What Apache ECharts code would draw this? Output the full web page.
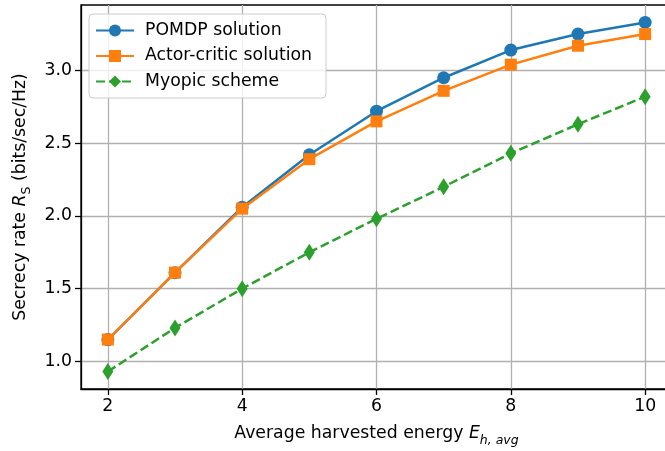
<!DOCTYPE html>
<html><head><meta charset="utf-8">
<script src="https://cdn.jsdelivr.net/npm/echarts@6/dist/echarts.min.js"></script>
<style>html,body{margin:0;padding:0;background:#fff}#c{width:665px;height:451px}</style>
</head><body><div id="c"></div>
<script>
var xValues = [2, 3, 4, 5, 6, 7, 8, 9, 10];
var pomdp = [1.15, 1.61, 2.06, 2.42, 2.72, 2.95, 3.14, 3.25, 3.33];
var actorCritic = [1.15, 1.61, 2.05, 2.39, 2.65, 2.86, 3.04, 3.17, 3.25];
var myopic = [0.93, 1.23, 1.50, 1.75, 1.98, 2.20, 2.43, 2.63, 2.82];
var xTicks = [2, 4, 6, 8, 10];
var yTicks = [1.0, 1.5, 2.0, 2.5, 3.0];
var seriesNames = ['POMDP solution', 'Actor-critic solution', 'Myopic scheme'];

function pairs(ys){ return xValues.map(function(x,i){ return [x, ys[i]]; }); }
var font = 'DejaVu Sans';
var fs = 17.3;
var chart = echarts.init(document.getElementById('c'), null, {renderer:'canvas'});
var axisCommon = {
  axisLine:{show:true, onZero:false, lineStyle:{color:'#000', width:1.3}},
  axisTick:{show:true, inside:false, length:6, lineStyle:{color:'#000', width:1.3}},
  splitLine:{show:true, lineStyle:{color:'#b0b0b0', width:1.3}},
  axisLabel:{color:'#000', fontFamily:font, fontSize:fs, margin:9}
};
chart.setOption({
  animation:false,
  backgroundColor:'#fff',
  grid:{left:81, top:5, width:591, height:384, show:true, borderColor:'#000', borderWidth:1.3,
        backgroundColor:'transparent', outerBoundsMode:'none', containLabel:false},
  legend:{
    left:89, top:14, orient:'vertical', itemWidth:38, itemHeight:15, itemGap:8.5,
    padding:[8,14,8,6],
    backgroundColor:'rgba(255,255,255,0.8)', borderColor:'#cccccc', borderWidth:1, borderRadius:4,
    textStyle:{fontFamily:font, fontSize:fs, color:'#000', padding:[0,0,0,6]},
    data:seriesNames
  },
  xAxis:Object.assign({}, JSON.parse(JSON.stringify(axisCommon)), {
    type:'value', min:1.6, max:10.4,
    axisTick:Object.assign({}, axisCommon.axisTick, {customValues:xTicks}),
    axisLabel:Object.assign({}, axisCommon.axisLabel, {customValues:xTicks}),
    name:'{n|Average harvested energy }{i|E}{s|h, avg}',
    nameLocation:'middle', nameGap:36,
    nameTextStyle:{rich:{
      n:{fontFamily:font, fontSize:fs, color:'#000', lineHeight:21, verticalAlign:'top'},
      i:{fontFamily:font, fontSize:fs, fontStyle:'italic', color:'#000', lineHeight:21, verticalAlign:'top'},
      s:{fontFamily:font, fontSize:12.5, fontStyle:'italic', color:'#000', lineHeight:15, verticalAlign:'top', padding:[9,0,0,0]}
    }}
  }),
  yAxis:Object.assign({}, JSON.parse(JSON.stringify(axisCommon)), {
    type:'value', min:0.81, max:3.45,
    axisTick:Object.assign({}, axisCommon.axisTick, {customValues:yTicks}),
    axisLabel:Object.assign({}, axisCommon.axisLabel, {customValues:yTicks, formatter:function(v){return v.toFixed(1);}}),
    name:'{n|Secrecy rate }{i|R}{s|S}{n| (bits/sec/Hz)}',
    nameLocation:'middle', nameGap:48, nameRotate:90,
    nameTextStyle:{rich:{
      n:{fontFamily:font, fontSize:fs, color:'#000', lineHeight:21, verticalAlign:'top'},
      i:{fontFamily:font, fontSize:fs, fontStyle:'italic', color:'#000', lineHeight:21, verticalAlign:'top'},
      s:{fontFamily:font, fontSize:12.5, color:'#000', lineHeight:15, verticalAlign:'top', padding:[8,0,0,0]}
    }}
  }),
  series:[
    {name:seriesNames[0], type:'line', data:pairs(pomdp), symbol:'circle', symbolSize:13,
     lineStyle:{color:'#1f77b4', width:2.5}, itemStyle:{color:'#1f77b4'}, z:5},
    {name:seriesNames[1], type:'line', data:pairs(actorCritic), symbol:'rect', symbolSize:12,
     lineStyle:{color:'#ff7f0e', width:2.5}, itemStyle:{color:'#ff7f0e'}, z:6},
    {name:seriesNames[2], type:'line', data:pairs(myopic), symbol:'path://M0,-10 L6,0 L0,10 L-6,0 Z', symbolSize:[11,17],
     lineStyle:{color:'#2ca02c', width:2.5, type:[9,4]}, itemStyle:{color:'#2ca02c'}, z:4}
  ]
});
</script></body></html>
